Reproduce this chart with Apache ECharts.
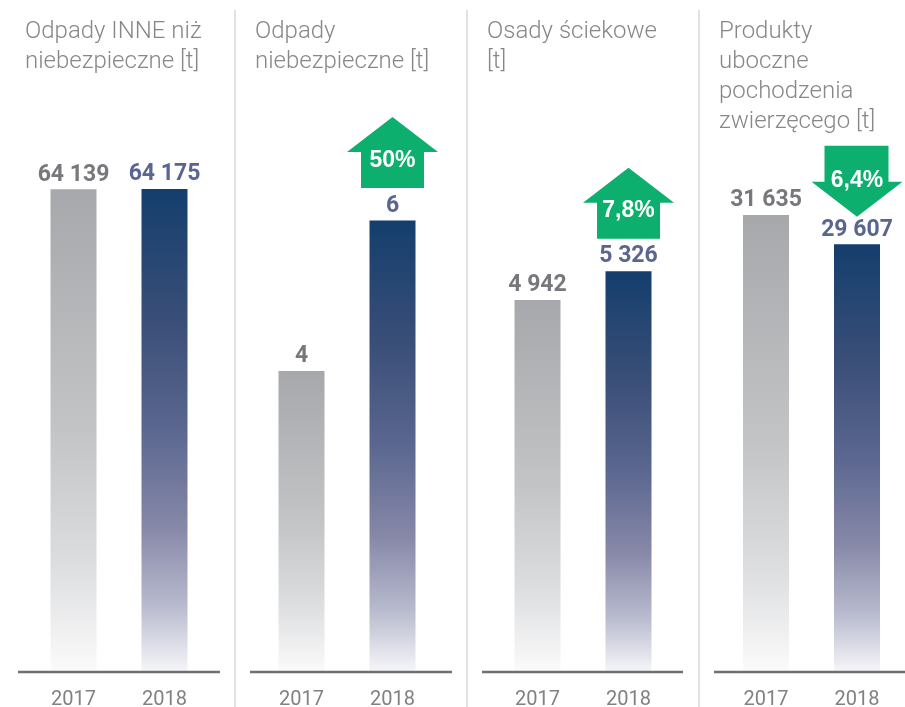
<!DOCTYPE html>
<html>
<head>
<meta charset="utf-8">
<script src="https://cdn.jsdelivr.net/npm/echarts@6/dist/echarts.min.js"></script>
<style>
  html, body { margin: 0; padding: 0; background: #fff; }
  #chart { width: 905px; height: 707px; }
</style>
</head>
<body>
<div id="chart"></div>
<script>
// Waste volumes by category, 2017 vs 2018
const years = ['2017', '2018'];
const panelTitles = [
  'Odpady INNE niż\nniebezpieczne [t]',
  'Odpady\nniebezpieczne [t]',
  'Osady ściekowe\n[t]',
  'Produkty\nuboczne\npochodzenia\nzwierzęcego [t]'
];
const values2017 = [64139, 4, 4942, 31635];
const values2018 = [64175, 6, 5326, 29607];
const changeLabels = ['', '50%', '7,8%', '6,4%'];
const changeDirection = [0, 1, 1, -1];   // 1 = increase, -1 = decrease
const axisMax = [76000, 7.6, 7600, 39600];

// Layout
const W = 905, H = 707;
const gridTop = 100, gridBottom = 35;
const baseY = H - gridBottom;
const panelCenters = [119, 347, 583, 811.5];
const gridWidth = 182;
const baselineSpans = [[18, 220], [250, 452], [482, 683], [714, 905]];
const dividers = [235, 467, 699];
const titleLeft = [20, 250, 482, 714];

const grayGrad = new echarts.graphic.LinearGradient(0, 0, 0, 1, [
  { offset: 0, color: '#a7a8ab' },
  { offset: 0.5, color: '#c3c4c6' },
  { offset: 0.78, color: '#dddee0' },
  { offset: 1, color: '#fbfbfb' }
]);
const blueGrad = new echarts.graphic.LinearGradient(0, 0, 0, 1, [
  { offset: 0, color: '#143e6d' },
  { offset: 0.28, color: '#3b4f78' },
  { offset: 0.5, color: '#5b6790' },
  { offset: 0.7, color: '#8788a8' },
  { offset: 0.86, color: '#b7b9cd' },
  { offset: 1, color: '#f6f6f9' }
]);

const ARROW_UP = 'path://M45.5,0 L91,35 L77,35 L77,71 L14,71 L14,35 L0,35 Z';
const ARROW_DOWN = 'path://M13,0 L77,0 L77,36 L91,36 L45.5,71 L0,36 L13,36 Z';

const fmt = v => String(v).replace(/\B(?=(\d{3})+(?!\d))/g, ' ');
const FONT = 'Roboto, "Liberation Sans", sans-serif';

const grids = [], xAxes = [], yAxes = [], series = [], titles = [], graphics = [];

panelTitles.forEach((t, i) => {
  titles.push({
    text: t,
    left: titleLeft[i],
    top: 12,
    textStyle: {
      fontFamily: FONT, fontWeight: 300, fontSize: 24,
      color: '#86878a', lineHeight: 30
    }
  });
  grids.push({
    left: panelCenters[i] - gridWidth / 2,
    width: gridWidth,
    top: gridTop,
    bottom: gridBottom,
    outerBoundsMode: 'none',
    containLabel: false
  });
  xAxes.push({
    type: 'category', gridIndex: i, data: years,
    axisLine: { show: false }, axisTick: { show: false },
    axisLabel: { margin: 18, fontSize: 20, color: '#808184', fontFamily: FONT }
  });
  yAxes.push({
    type: 'value', gridIndex: i, min: 0, max: axisMax[i], show: false,
    splitLine: { show: false }
  });

  const markData = [];
  if (changeDirection[i] !== 0) {
    const up = changeDirection[i] > 0;
    markData.push({
      coord: [1, values2018[i]],
      symbol: up ? ARROW_UP : ARROW_DOWN,
      symbolSize: [91, 71],
      symbolOffset: [0, up ? -68 : -63],
      itemStyle: { color: '#0daf6e' },
      label: {
        show: true, position: 'inside', formatter: changeLabels[i],
        offset: [0, up ? 8 : -1],
        color: '#ffffff', fontSize: 23, fontWeight: 'bold',
        fontFamily: '"Liberation Sans", Arial, sans-serif'
      }
    });
  }

  series.push({
    type: 'bar', xAxisIndex: i, yAxisIndex: i, barWidth: 46,
    data: [
      { value: values2017[i], itemStyle: { color: grayGrad }, label: { color: '#77787b' } },
      { value: values2018[i], itemStyle: { color: blueGrad }, label: { color: '#5a6591' } }
    ],
    label: {
      show: true, position: 'top', distance: 3,
      fontFamily: FONT, fontSize: 23, fontWeight: 'bold',
      formatter: p => fmt(p.value)
    },
    markPoint: { silent: true, animation: false, data: markData },
    animation: false
  });

  graphics.push({
    type: 'line', silent: true,
    shape: { x1: baselineSpans[i][0], y1: baseY, x2: baselineSpans[i][1], y2: baseY },
    style: { stroke: '#6e6f72', lineWidth: 2.5 }, z: 10
  });
});

dividers.forEach(x => {
  graphics.push({
    type: 'line', silent: true,
    shape: { x1: x, y1: 10, x2: x, y2: H },
    style: { stroke: '#e1e1e1', lineWidth: 2 }
  });
});

const chart = echarts.init(document.getElementById('chart'), null, { renderer: 'canvas' });
chart.setOption({
  backgroundColor: '#ffffff',
  animation: false,
  title: titles,
  grid: grids,
  xAxis: xAxes,
  yAxis: yAxes,
  series: series,
  graphic: graphics
});
</script>
</body>
</html>
